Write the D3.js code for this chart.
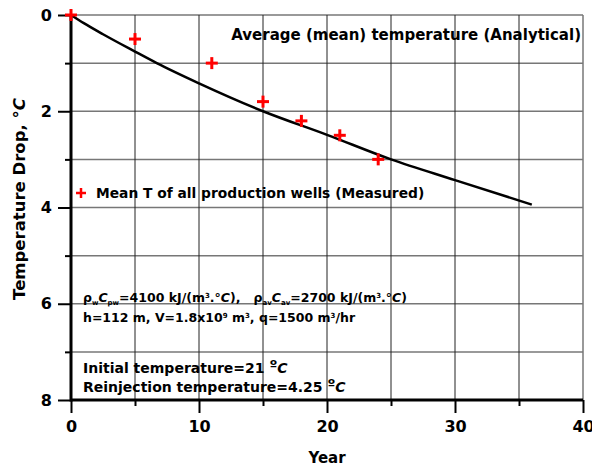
<!DOCTYPE html>
<meta charset="utf-8">
<script src="https://d3js.org/d3.v7.min.js"></script>
<style>
  body { margin: 0; background: #fff; }
  text { font-family: "DejaVu Sans", sans-serif; font-weight: bold; }
</style>
<body>
<div id="chart"></div>
<script>

// measured mean temperature drop of all production wells
var measYear = [0, 5, 11, 15, 18, 21, 24];
var measDrop = [0, 0.5, 1.0, 1.8, 2.2, 2.5, 3.0];

// analytical average temperature drop
var anYear = [0, 1, 2.5, 5, 6.7, 10, 15, 20, 25, 30, 36];
var anDrop = [0, 0.17, 0.4, 0.76, 1.0, 1.42, 2.0, 2.49, 3.0, 3.43, 3.94];

var xTicks = [0, 10, 20, 30, 40];
var xMinor = [5, 15, 25, 35];
var yTicks = [0, 2, 4, 6, 8];
var yMinor = [1, 3, 5, 7];

var margin = {top: 15, right: 9, bottom: 68, left: 71},
    width = 592 - margin.left - margin.right,
    height = 468 - margin.top - margin.bottom;

var svg = d3.select("#chart")
  .append("svg")
    .attr("width", 592)
    .attr("height", 468)
  .append("g")
    .attr("transform", "translate(" + margin.left + "," + margin.top + ")");

var x = d3.scaleLinear().domain([0, 40]).range([0, width]);
var y = d3.scaleLinear().domain([0, 8]).range([0, height]);

// grid
svg.append("g")
  .selectAll("line")
  .data(d3.range(0, 8))
  .enter()
  .append("line")
    .attr("x1", 0).attr("x2", width)
    .attr("y1", d => y(d)).attr("y2", d => y(d))
    .style("stroke", "#777")
    .style("stroke-width", 1.5);

svg.append("g")
  .selectAll("line")
  .data(d3.range(5, 45, 5))
  .enter()
  .append("line")
    .attr("x1", d => x(d)).attr("x2", d => x(d))
    .attr("y1", 0).attr("y2", height)
    .style("stroke", d => d == 40 ? "#777" : "#222")
    .style("stroke-width", d => d == 40 ? 1.5 : 1);

// axes
var xAxis = svg.append("g")
  .attr("transform", "translate(0," + height + ")")
  .call(d3.axisBottom(x).tickValues(xTicks).tickSize(13).tickPadding(8).tickFormat(d3.format("d")));
svg.append("g")
  .attr("transform", "translate(0," + height + ")")
  .call(d3.axisBottom(x).tickValues(xMinor).tickSize(6).tickFormat(""));

var yAxis = svg.append("g")
  .call(d3.axisLeft(y).tickValues(yTicks).tickSize(13).tickPadding(6).tickFormat(d3.format("d")));
svg.append("g")
  .call(d3.axisLeft(y).tickValues(yMinor).tickSize(6).tickFormat(""));

svg.selectAll(".domain").remove();
svg.selectAll(".tick line").style("stroke", "#000").style("stroke-width", 2);
svg.selectAll(".tick text").style("font-size", "16px").style("fill", "#000");

svg.append("line")
  .attr("x1", 0).attr("x2", 0).attr("y1", 0).attr("y2", height + 1.5)
  .style("stroke", "#000").style("stroke-width", 3);
svg.append("line")
  .attr("x1", 0).attr("x2", width).attr("y1", height).attr("y2", height)
  .style("stroke", "#000").style("stroke-width", 3);

// analytical curve
svg.append("path")
  .datum(anYear.map((d, i) => [d, anDrop[i]]))
  .attr("fill", "none")
  .attr("stroke", "#000")
  .attr("stroke-width", 2.5)
  .attr("d", d3.line().x(d => x(d[0])).y(d => y(d[1])).curve(d3.curveMonotoneX));

// measured points
function plus(g) {
  g.append("line").attr("x1", -6).attr("x2", 6).attr("y1", 0).attr("y2", 0);
  g.append("line").attr("x1", 0).attr("x2", 0).attr("y1", -6).attr("y2", 6);
}
svg.append("g")
  .selectAll("g")
  .data(measYear.map((d, i) => [d, measDrop[i]]))
  .enter()
  .append("g")
    .attr("transform", d => "translate(" + x(d[0]) + "," + y(d[1]) + ")")
    .style("stroke", "#f00")
    .style("stroke-width", 3)
    .each(function() { plus(d3.select(this)); });

// labels
svg.append("text")
  .attr("x", 581 - margin.left)
  .attr("y", 40 - margin.top)
  .attr("text-anchor", "end")
  .style("font-size", "15px")
  .text("Average (mean) temperature (Analytical)");

var leg = svg.append("g")
  .attr("transform", "translate(" + (81 - margin.left) + "," + (193 - margin.top) + ")")
  .style("stroke", "#f00")
  .style("stroke-width", 2.5);
leg.append("line").attr("x1", -5).attr("x2", 5);
leg.append("line").attr("y1", -5).attr("y2", 5);
svg.append("text")
  .attr("x", 96 - margin.left)
  .attr("y", 198 - margin.top)
  .style("font-size", "13.8px")
  .text("Mean T of all production wells (Measured)");

var p1 = svg.append("text")
  .attr("x", 83 - margin.left)
  .attr("y", 302 - margin.top)
  .style("font-size", "12.5px");
p1.append("tspan").text("ρ");
p1.append("tspan").attr("dy", 3).style("font-size", "7px").text("w");
p1.append("tspan").attr("dy", -3).style("font-style", "italic").text("C");
p1.append("tspan").attr("dy", 3).style("font-size", "7px").text("pw");
p1.append("tspan").attr("dy", -3).text("=4100 kJ/(m");
p1.append("tspan").attr("dy", -4).style("font-size", "7px").text("3");
p1.append("tspan").attr("dy", 4).text(".°");
p1.append("tspan").style("font-style", "italic").text("C");
p1.append("tspan").text("),\u00a0\u00a0 ρ");
p1.append("tspan").attr("dy", 3).style("font-size", "7px").text("av");
p1.append("tspan").attr("dy", -3).style("font-style", "italic").text("C");
p1.append("tspan").attr("dy", 3).style("font-size", "7px").text("av");
p1.append("tspan").attr("dy", -3).text("=2700 kJ/(m");
p1.append("tspan").attr("dy", -4).style("font-size", "7px").text("3");
p1.append("tspan").attr("dy", 4).text(".°");
p1.append("tspan").style("font-style", "italic").text("C");
p1.append("tspan").text(")");

var p2 = svg.append("text")
  .attr("x", 83 - margin.left)
  .attr("y", 322 - margin.top)
  .style("font-size", "12.5px");
p2.append("tspan").text("h=112 m, V=1.8x10");
p2.append("tspan").attr("dy", -4).style("font-size", "7px").text("9");
p2.append("tspan").attr("dy", 4).text(" m");
p2.append("tspan").attr("dy", -4).style("font-size", "7px").text("3");
p2.append("tspan").attr("dy", 4).text(", q=1500 m");
p2.append("tspan").attr("dy", -4).style("font-size", "7px").text("3");
p2.append("tspan").attr("dy", 4).text("/hr");

var t1 = svg.append("text")
  .attr("x", 83 - margin.left)
  .attr("y", 373 - margin.top)
  .style("font-size", "14px");
t1.append("tspan").text("Initial temperature=21 ");
t1.append("tspan").attr("dy", -3).text("º");
t1.append("tspan").attr("dy", 3).style("font-style", "italic").text("C");

var t2 = svg.append("text")
  .attr("x", 83 - margin.left)
  .attr("y", 392 - margin.top)
  .style("font-size", "14px");
t2.append("tspan").text("Reinjection temperature=4.25 ");
t2.append("tspan").attr("dy", -3).text("º");
t2.append("tspan").attr("dy", 3).style("font-style", "italic").text("C");

// axis titles
svg.append("text")
  .attr("x", 327 - margin.left)
  .attr("y", 463 - margin.top)
  .attr("text-anchor", "middle")
  .style("font-size", "15px")
  .text("Year");

var yl = svg.append("text")
  .attr("transform", "translate(" + (25 - margin.left) + "," + (199 - margin.top) + ") rotate(-90)")
  .attr("text-anchor", "middle")
  .style("font-size", "16.5px");
yl.append("tspan").text("Temperature Drop, °");
yl.append("tspan").style("font-style", "italic").text("C");

</script>
</body>
